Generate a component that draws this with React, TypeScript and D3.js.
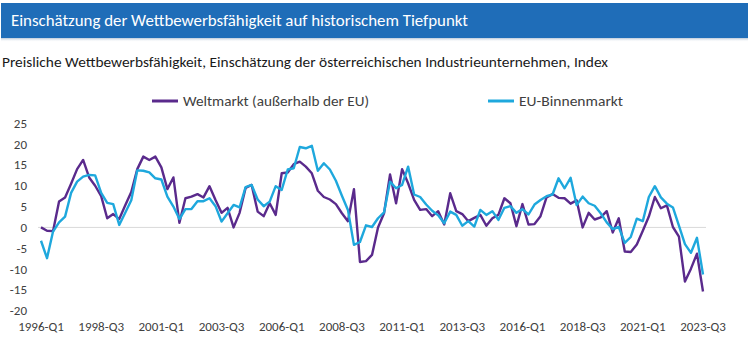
import React from 'react';
import {scaleLinear, line} from 'd3';

// Quartale 1996-Q1 bis 2023-Q3
const startYear = 1996;
const quarterCount = 111;
const quarters = Array.from({length: quarterCount}, (_, i) =>
  `${startYear + Math.floor(i / 4)}-Q${(i % 4) + 1}`
);

// Weltmarkt (außerhalb der EU)
const weltmarkt = [
  0, -0.8, -0.9, 6.2, 7.2, 10.5, 14, 16.2, 12, 10, 7.5, 2.2, 3.2, 2, 5.3, 8.5,
  14, 17, 16.2, 17, 14.4, 9.2, 12, 1.1, 7, 7.4, 8, 7.2, 9.9, 6.6, 3.5, 4.7,
  0, 3.5, 9.5, 10.2, 3.8, 2.7, 5.8, 3, 13, 13.2, 15.2, 15.8, 14.6, 13, 8.8, 7.3,
  6.7, 5.6, 3.4, 1.5, 9.2, -8.3, -8.1, -6.6, 0, 3.4, 12.7, 5.8, 14, 10.6, 6.6, 4.2,
  4.4, 2.7, 3.9, 0.7, 8.2, 3.9, 3.2, 1.5, 2.3, 3, 0.4, 2.2, 3, 7, 5.8, 0.3,
  5.6, 0.7, 0.8, 2.7, 7.2, 8, 7.1, 7, 5.7, 6.5, 0, 3.5, 1.9, 2.4, 3.9, -1.2,
  2.2, -5.8, -5.9, -4.1, -0.8, 2.6, 7.3, 4.6, 5.3, 0.1, -2.2, -13, -9.9, -6.3, -15.4
];

// EU-Binnenmarkt
const binnenmarkt = [
  -3.2, -7.4, -1, 1.2, 2.6, 8.3, 11, 12.2, 12.6, 12.5, 8.3, 5.9, 5.6, 0.6, 3.5, 6.5,
  13.7, 13.6, 13.2, 11.8, 11.5, 7.4, 5, 2, 4.4, 4.4, 6.3, 6.3, 7, 5.1, 1.4, 3.4,
  5.4, 4.8, 9.7, 10.2, 6.7, 5.1, 6.2, 9.9, 9, 13.9, 14.2, 19.3, 19, 19.6, 13.6, 15.4,
  13.9, 11.2, 7.6, 4.2, -4.2, -3.5, 0.5, 0.1, 2.2, 3.6, 11, 9.4, 10.2, 14.6, 7.9, 7.3,
  5.5, 4, 2.9, 1, 3.8, 3, 0.4, 1.5, 0.2, 4.2, 3, 3.9, 1.8, 4.7, 5.1, 3.5,
  4.4, 3.1, 5.5, 6.6, 7.5, 7.9, 11.8, 9.4, 11.9, 5.4, 7.4, 5.8, 5.2, 3.4, 1.2, -0.4,
  0.1, -3.7, -2.3, 2.1, 1.5, 7.3, 9.9, 7.2, 5.7, 4.8, 0.4, -4, -6.1, -2.5, -11.3
];

const yTicks = [25, 20, 15, 10, 5, 0, -5, -10, -15, -20];
const labelStep = 10;

const title = 'Einschätzung der Wettbewerbsfähigkeit auf historischem Tiefpunkt';
const subtitle =
  'Preisliche Wettbewerbsfähigkeit, Einschätzung der österreichischen Industrieunternehmen, Index';
const serien = [
  {name: 'Weltmarkt (außerhalb der EU)', values: weltmarkt, color: '#5a2a8c'},
  {name: 'EU-Binnenmarkt', values: binnenmarkt, color: '#1ea8dd'}
];

export default function App() {
  const width = 750;
  const height = 350;
  const font = 'Calibri, Carlito, "Open Sans", sans-serif';

  const x = scaleLinear().domain([0, quarterCount - 1]).range([41, 703]);
  const y = scaleLinear().domain([-20, 25]).range([310.7, 123.3]);

  const path = line<number>()
    .x((d, i) => x(i))
    .y(d => y(d));

  const legend = [
    {x0: 152, tx: 183, tw: 186},
    {x0: 488, tx: 519, tw: 104}
  ];

  return (
    <svg
      width={width}
      height={height}
      style={{position: 'absolute', left: 0, top: 0, background: '#fff'}}
      fontFamily={font}
    >
      <defs>
        <linearGradient id="shadow" x1="0" x2="0" y1="0" y2="1">
          <stop offset="0" stopColor="#9bb0c8" stopOpacity="0.7" />
          <stop offset="1" stopColor="#ffffff" stopOpacity="0" />
        </linearGradient>
      </defs>
      <rect x={1} y={38} width={747} height={4} fill="url(#shadow)" />
      <rect x={1} y={3} width={747} height={35} fill="#1f6db8" />
      <text
        x={11}
        y={26}
        fill="#fff"
        fontSize={16}
        textLength={457}
        lengthAdjust="spacingAndGlyphs"
      >
        {title}
      </text>
      <text
        x={2}
        y={67}
        fill="#1a1a1a"
        fontSize={14}
        textLength={606}
        lengthAdjust="spacingAndGlyphs"
      >
        {subtitle}
      </text>

      {serien.map((s, k) => (
        <g key={s.name}>
          <line
            x1={legend[k].x0}
            x2={legend[k].x0 + 26}
            y1={101}
            y2={101}
            stroke={s.color}
            strokeWidth={3}
          />
          <text
            x={legend[k].tx}
            y={106}
            fontSize={14}
            fill="#404040"
            textLength={legend[k].tw}
            lengthAdjust="spacingAndGlyphs"
          >
            {s.name}
          </text>
        </g>
      ))}

      {yTicks.map(t => (
        <text
          key={t}
          x={27}
          y={y(t) + 4.5}
          textAnchor="end"
          fontSize={13}
          fill="#404040"
        >
          {t}
        </text>
      ))}

      <line x1={38} x2={706} y1={y(0)} y2={y(0)} stroke="#d9d9d9" strokeWidth={1} />

      {quarters.map((q, i) =>
        i % labelStep === 0 ? (
          <text
            key={q}
            x={x(i)}
            y={331}
            textAnchor="middle"
            fontSize={13}
            fill="#404040"
          >
            {q}
          </text>
        ) : null
      )}

      {serien.map(s => (
        <path
          key={s.name}
          d={path(s.values) || ''}
          fill="none"
          stroke={s.color}
          strokeWidth={2.4}
          strokeLinejoin="round"
        />
      ))}
    </svg>
  );
}
